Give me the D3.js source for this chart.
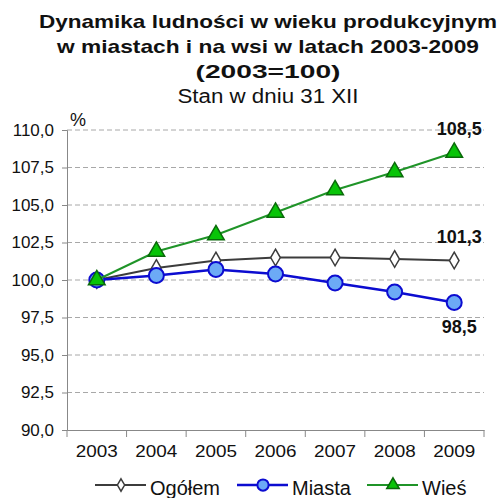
<!DOCTYPE html>
<html>
<head>
<meta charset="utf-8">
<script src="https://cdn.jsdelivr.net/npm/d3@7"></script>
<style>
  body { margin: 0; background: #fff; }
  text { font-family: "Liberation Sans", Arial, sans-serif; fill: #111; }
</style>
</head>
<body>
<svg id="chart" width="503" height="498"></svg>
<script>
// Data
const years = ["2003", "2004", "2005", "2006", "2007", "2008", "2009"];
const ogolem = [100, 100.8, 101.3, 101.5, 101.5, 101.4, 101.3];
const miasta = [100, 100.3, 100.7, 100.4, 99.8, 99.2, 98.5];
const wies = [100, 101.9, 103.0, 104.5, 106.0, 107.2, 108.5];
const yTicks = [90, 92.5, 95, 97.5, 100, 102.5, 105, 107.5, 110];

const fmt = v => v.toFixed(1).replace(".", ",");

const svg = d3.select("#chart");
const plotLeft = 67, plotRight = 484, plotTop = 130, plotBottom = 430;

const x = d3.scaleBand().domain(years).range([plotLeft, plotRight]);
const y = d3.scaleLinear().domain([90, 110]).range([plotBottom, plotTop]);

// Titles (the original glyphs are a bit wider than Arial, so stretch to width)
const titles = [
  { t: "Dynamika ludności w wieku produkcyjnym", y: 28, bold: true, w: 458 },
  { t: "w miastach i na wsi w latach 2003-2009", y: 53, bold: true, w: 422 },
  { t: "(2003=100)", y: 78, bold: true, w: 145 },
  { t: "Stan w dniu 31 XII", y: 103, bold: false, w: 181 }
];
svg.selectAll("text.title").data(titles).join("text")
  .attr("class", "title")
  .attr("x", 268).attr("y", d => d.y)
  .attr("text-anchor", "middle")
  .attr("textLength", d => d.w)
  .attr("lengthAdjust", "spacingAndGlyphs")
  .style("font-size", d => d.bold ? "19px" : "20px")
  .style("font-weight", d => d.bold ? "bold" : "normal")
  .text(d => d.t);

// Grid
svg.append("g").selectAll("line").data(yTicks.filter(v => v > 90)).join("line")
  .attr("x1", plotLeft).attr("x2", plotRight)
  .attr("y1", d => y(d)).attr("y2", d => y(d))
  .attr("stroke", "#a8a8a8").attr("stroke-dasharray", "5,3").attr("stroke-width", 1);

// Y axis
const yAxis = svg.append("g").attr("transform", `translate(${plotLeft},0)`)
  .call(d3.axisLeft(y).tickValues(yTicks).tickFormat(fmt).tickSize(5).tickPadding(8));
yAxis.select(".domain").attr("stroke", "#888");
yAxis.selectAll(".tick line").attr("stroke", "#888");
yAxis.selectAll("text").style("font-size", "17px").attr("fill", "#111");

// X axis
const xAxis = svg.append("g").attr("transform", `translate(0,${plotBottom})`)
  .call(d3.axisBottom(x).tickSize(0).tickPadding(15));
xAxis.select(".domain").attr("stroke", "#888");
xAxis.selectAll("text").style("font-size", "17px").attr("fill", "#111")
  .attr("textLength", 42).attr("lengthAdjust", "spacingAndGlyphs");
xAxis.selectAll("line.sep").data(x.domain().concat(["end"])).join("line")
  .attr("class", "sep")
  .attr("x1", (d, i) => plotLeft + i * x.step()).attr("x2", (d, i) => plotLeft + i * x.step())
  .attr("y1", 0).attr("y2", 7).attr("stroke", "#888");

svg.append("text").attr("x", 70).attr("y", 126).style("font-size", "18px").text("%");

const cx = i => x(years[i]) + x.bandwidth() / 2;
const line = d3.line().x((d, i) => cx(i)).y(d => y(d));

const series = [
  { name: "Ogółem", data: ogolem, stroke: "#3c3c3c", width: 2, marker: "diamond", fill: "#fff", mstroke: "#3c3c3c" },
  { name: "Miasta", data: miasta, stroke: "#0c0cd0", width: 2.5, marker: "circle", fill: "#6caaf6", mstroke: "#0c0cd0" },
  { name: "Wieś", data: wies, stroke: "#1f9428", width: 2, marker: "triangle", fill: "#08c408", mstroke: "#0a6a0a" }
];

function drawMarker(g, s, px, py, k) {
  if (s.marker === "circle") {
    g.append("circle").attr("cx", px).attr("cy", py).attr("r", 7.5 * k)
      .attr("fill", s.fill).attr("stroke", s.mstroke).attr("stroke-width", 2);
  } else {
    const sym = d3.symbol()
      .type(s.marker === "triangle" ? d3.symbolTriangle : d3.symbolDiamond)
      .size(s.marker === "triangle" ? 120 * k * k : 80 * k * k);
    g.append("path").attr("d", sym())
      .attr("transform", `translate(${px},${py})`)
      .attr("fill", s.fill).attr("stroke", s.mstroke).attr("stroke-width", 1.5);
  }
}

series.forEach(s => {
  const g = svg.append("g");
  g.append("path").datum(s.data).attr("d", line)
    .attr("fill", "none").attr("stroke", s.stroke).attr("stroke-width", s.width);
  s.data.forEach((v, i) => drawMarker(g, s, cx(i), y(v), 1));
});

// End labels
const endLabels = [
  { v: wies[6], dy: -18 },
  { v: ogolem[6], dy: -18 },
  { v: miasta[6], dy: 30 }
];
svg.selectAll("text.endlab").data(endLabels).join("text")
  .attr("class", "endlab")
  .attr("x", cx(6) + 5).attr("y", d => y(d.v) + d.dy)
  .attr("text-anchor", "middle")
  .style("font-size", "18px").style("font-weight", "bold")
  .text(d => fmt(d.v));

// Legend
const legX = [95, 237, 367];
series.forEach((s, i) => {
  const g = svg.append("g").attr("transform", `translate(${legX[i]},485)`);
  g.append("line").attr("x1", 0).attr("x2", 51).attr("y1", 0).attr("y2", 0)
    .attr("stroke", s.stroke).attr("stroke-width", s.width);
  drawMarker(g, s, 26, 0, 0.75);
  g.append("text").attr("x", 55).attr("y", 10).style("font-size", "20px").text(s.name);
});
</script>
</body>
</html>
